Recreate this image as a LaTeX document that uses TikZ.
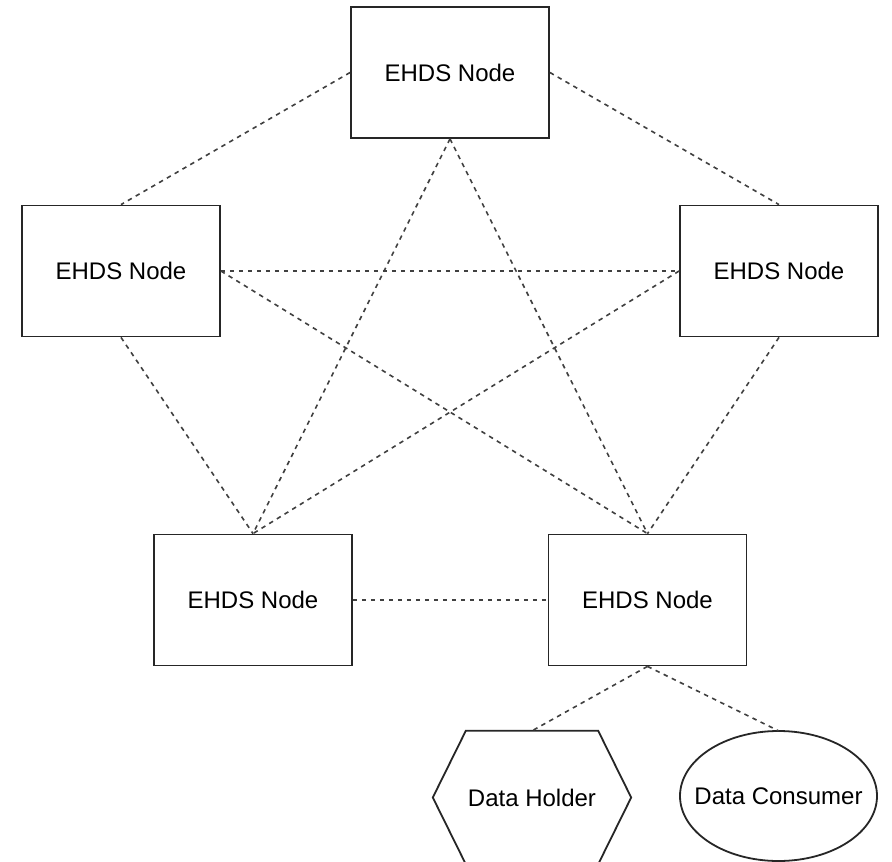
\documentclass[tikz,border=0pt]{standalone}
\usepackage{fontspec}
\setmainfont{Liberation Sans}
\usetikzlibrary{shapes.geometric,calc}
\begin{document}
\begin{tikzpicture}[x=1pt,y=-1pt,
  ehds/.style={draw=black!85, line width=1.8pt, minimum width=198pt, minimum height=131pt, inner sep=0pt, font=\fontsize{24}{28}\selectfont},
  link/.style={draw=black!75, line width=1.6pt, dash pattern=on 4.5pt off 4.5pt},
  lbl/.style={inner sep=0pt, font=\fontsize{24}{28}\selectfont},
  outline/.style={draw=black!85, line width=1.8pt}]
\useasboundingbox (0,0) rectangle (892,862);
\fill[white] (0,0) rectangle (892,862);
\node[ehds] (top) at (450,72.5) {EHDS Node};
\node[ehds] (left) at (121,271) {EHDS Node};
\node[ehds] (right) at (779,271) {EHDS Node};
\node[ehds] (bl) at (253,600) {EHDS Node};
\node[ehds] (br) at (647.5,600) {EHDS Node};
\node[lbl, minimum width=198pt, minimum height=133pt] (holder) at (532,797.5) {Data Holder};
\draw[outline]
  ($(holder.north west)+(33,0)$) -- ($(holder.north east)+(-33,0)$) -- (holder.east)
  -- ($(holder.south east)+(-33,0)$) -- ($(holder.south west)+(33,0)$) -- (holder.west) -- cycle;
\node[lbl, minimum width=197pt, minimum height=130pt] (consumer) at (778.5,796) {Data Consumer};
\draw[outline] (consumer.center) ellipse [x radius=98.5pt, y radius=65pt];
\draw[link] (top.west) -- (left.north);
\draw[link] (top.east) -- (right.north);
\draw[link] (top.south) -- (bl.north);
\draw[link] (top.south) -- (br.north);
\draw[link] (left.east) -- (right.west);
\draw[link] (left.east) -- (br.north);
\draw[link] (right.west) -- (bl.north);
\draw[link] (left.south) -- (bl.north);
\draw[link] (right.south) -- (br.north);
\draw[link] (bl.east) -- (br.west);
\draw[link] (br.south) -- (holder.north);
\draw[link] (br.south) -- (consumer.north);
\end{tikzpicture}
\end{document}
